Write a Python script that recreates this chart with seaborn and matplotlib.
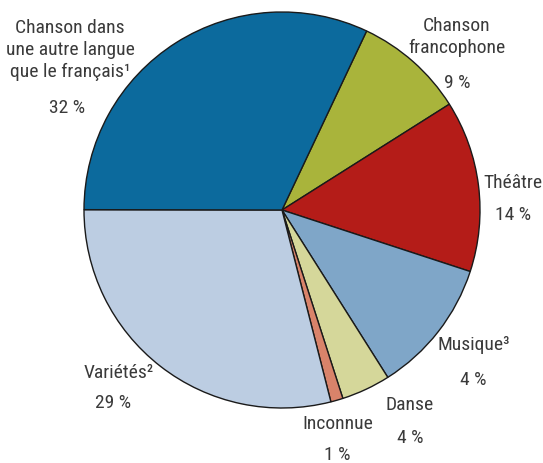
import matplotlib
matplotlib.use("Agg")
import matplotlib.pyplot as plt
from matplotlib import font_manager as fm
import seaborn as sns

sns.set_theme(style="white")
plt.rcParams['font.family'] = ['DejaVu Sans']

# Data (clockwise from top)
categories = ["Chanson\nfrancophone", "Théâtre", "Musique³", "Danse", "Inconnue",
              "Variétés²", "Chanson dans\nune autre langue\nque le français¹"]
values = [9, 14, 11, 4, 1, 29, 32]
pct_labels = ["9 %", "14 %", "4 %", "4 %", "1 %", "29 %", "32 %"]
colors = ["#a9b43b", "#b41c18", "#7fa6c8", "#d5d79a", "#d9836a", "#bccde2", "#0c6a9d"]

# label positions in pixels (name center, percent center)
name_pos = [(457, 37), (513, 183), (474, 345), (410, 405), (338, 424), (119, 373), (70, 50)]
pct_pos = [(457, 83), (513, 215), (473, 380), (410, 438), (337, 455), (113, 403), (67, 108)]


def pick_font():
    prefs = ["robotocondensed", "roboto_condensed", "liberationsansnarrow", "liberation_sans_narrow",
             "notosans-condensed", "notosanscondensed", "opensans-condensed", "opensans_condensed",
             "condensed", "narrow"]
    best, best_rank = None, None
    for f in fm.fontManager.ttflist:
        p = f.fname.lower().replace(" ", "")
        n = f.name.lower().replace(" ", "")
        if f.style != "normal":
            continue
        if any(k in p for k in ("bold", "light", "thin", "black", "medium", "semi", "extra")):
            continue
        for i, key in enumerate(prefs):
            if key in p or key in n:
                if best_rank is None or i < best_rank:
                    best, best_rank = f.fname, i
                break
    return best


fpath = pick_font()

W, H = 543, 463
cx, cy, r = 282, 210, 198

fig = plt.figure(figsize=(W / 100, H / 100), dpi=100)
ax = fig.add_axes([0, 0, 1, 1])
ax.pie(values, colors=colors, startangle=64.7, counterclock=False,
       radius=1.0, center=(0, 0),
       wedgeprops=dict(edgecolor="#1a1a1a", linewidth=1.0))
ax.set_xlim(-cx / r, (W - cx) / r)
ax.set_ylim(-(H - cy) / r, cy / r)
ax.set_aspect("equal")
ax.axis("off")

tc = "#3a3a3a"
fs = 14.0
if fpath:
    fp = fm.FontProperties(fname=fpath, size=fs)
else:
    fp = fm.FontProperties(family="DejaVu Sans", stretch="condensed", size=12.5)
for name, (nx, ny), pct, (px, py) in zip(categories, name_pos, pct_labels, pct_pos):
    ax.text(nx / W, 1 - ny / H, name, transform=ax.transAxes, ha="center", va="center",
            fontproperties=fp, color=tc, linespacing=1.3)
    ax.text(px / W, 1 - py / H, pct, transform=ax.transAxes, ha="center", va="center",
            fontproperties=fp, color=tc)

fig.savefig("out.png", dpi=100)
